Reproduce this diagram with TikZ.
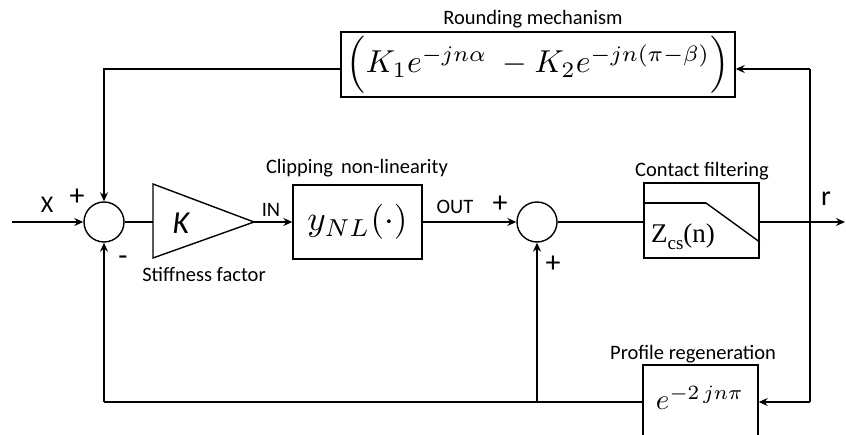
\documentclass[tikz,border=0pt]{standalone}
\usepackage{graphicx}
\usepackage{fontspec}
\setmainfont{Carlito}
\newfontfamily\timesf{Liberation Serif}
\usetikzlibrary{arrows.meta}
\tikzset{
  line/.style={line width=1.4pt},
  thickline/.style={line width=2.4pt},
  arr/.style={-{Stealth[length=9pt,width=8pt,inset=3pt]}},
  sumnode/.style={circle,draw,line width=1.4pt,minimum size=40pt,inner sep=0pt},
  blockbox/.style={draw,line width=1.4pt,rectangle,inner sep=0pt},
  lbl/.style={font=\fontsize{20.5}{22}\selectfont,inner sep=0pt},
  sgn/.style={font=\fontsize{30}{30}\selectfont,inner sep=0pt},
}
\begin{document}
\begin{tikzpicture}[x=1pt,y=-1pt]
\useasboundingbox (0,0) rectangle (846,435);
% nodes
\node[sumnode] (s1) at (104,222) {};
\node[sumnode] (s2) at (537,222) {};
\coordinate (in) at (12,222);
\coordinate (out) at (845,222);
\coordinate (triL) at (153,222);
\coordinate (triT) at (153,184);
\coordinate (triB) at (153,258);
\coordinate (triR) at (254,222);
\node[inner sep=0pt,font=\fontsize{32}{32}\selectfont\itshape] (K) at (181,223) {K};
\node[blockbox,minimum width=129pt,minimum height=74pt] (nl) at (357.5,222) {};
\node[inner sep=0pt] at (357.5,222) {\resizebox{100pt}{!}{$y_{NL}(\cdot)$}};
\node[blockbox,minimum width=115pt,minimum height=75pt] (cf) at (701.5,220.5) {};
\node[inner sep=0pt,font=\fontsize{27}{27}\selectfont\timesf] at (683,237) {Z\raisebox{-0.25em}{\fontsize{19}{19}\selectfont\timesf cs}(n)};
\node[blockbox,minimum width=394pt,minimum height=65pt] (rm) at (538,64.5) {};
\node[inner sep=0pt] at (538,65) {\resizebox{382pt}{!}{$\Bigl(K_1e^{-jn\alpha}\;-K_2e^{-jn\left(\pi-\beta\right)}\Bigr)$}};
\node[blockbox,minimum width=115pt,minimum height=76pt] (pr) at (700.5,403) {};
\node[inner sep=0pt] at (700,398) {\resizebox{88pt}{!}{$e^{-2\,jn\pi}$}};
\coordinate (rtop) at (810,69);
\coordinate (rbot) at (810,402);
\coordinate (ltop) at (104,69);
\coordinate (lbot) at (104,402);
\coordinate (mbot) at (537,402);
% triangle
\draw[line] (triT) -- (triR) -- (triB) -- cycle;
% connectors
\draw[line,arr] (in) -- (s1.west);
\draw[line] (s1.east) -- (triL);
\draw[line,arr] (triR) -- (nl.west);
\draw[line,arr] (nl.east) -- (s2.west);
\draw[line] (s2.east) -- (cf.west |- s2.east);
\draw[line,arr] (cf.east |- out) -- (out);
\draw[thickline] (rtop) -- (rbot);
\draw[line,arr] (rtop) -- (rm.east |- rtop);
\draw[thickline] (rm.west |- ltop) -- (ltop) -- ++(0,40);
\draw[line,arr] (ltop) -- (s1.north);
\draw[line,arr] (rbot) -- (pr.east |- rbot);
\draw[line] (pr.west |- lbot) -- (lbot);
\draw[line,arr] (lbot) -- (s1.south);
\draw[line,arr] (mbot) -- (s2.south);
% filter curve
\draw[line width=2.4pt] (cf.west |- 0,203) -- (706,203);
\draw[line width=1.4pt] (706,203) -- (cf.east |- 0,242);
% labels
\node[lbl] at (533,19) {Rounding mechanism};
\node[lbl] at (357,168) {Clipping\, non-linearity};
\node[lbl] at (702,171) {Contact filtering};
\node[lbl] at (693,354) {Profile regeneration};
\node[lbl] at (204,274) {Stiffness factor};
\node[lbl] at (271,210) {IN};
\node[lbl] at (455,207) {OUT};
\node[lbl,font=\fontsize{24}{24}\selectfont] at (47,205) {X};
\node[lbl,font=\fontsize{28}{28}\selectfont] at (826,199) {r};
\node[sgn] at (77,197) {+};
\node[sgn] at (500,204) {+};
\node[sgn] at (553,264) {+};
\node[sgn] at (123,261) {-};
\end{tikzpicture}
\end{document}
